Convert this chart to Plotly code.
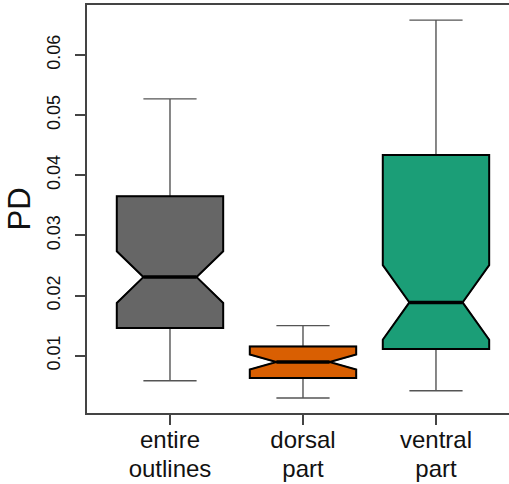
import plotly.graph_objects as go

# Group labels and five-number summaries of PD per outline region
groups = ["entire<br>outlines", "dorsal<br>part", "ventral<br>part"]
lower_whisker = [0.00585, 0.00297, 0.00418]
q1 = [0.0146, 0.0063, 0.01111]
median = [0.02307, 0.00895, 0.01886]
q3 = [0.0365, 0.01155, 0.04339]
upper_whisker = [0.0527, 0.0150, 0.0658]
notch_half = [0.0043, 0.00125, 0.0062]
fill_colors = ["#666666", "#D95F02", "#1B9E77"]

y_ticks = [0.01, 0.02, 0.03, 0.04, 0.05, 0.06]
y_tick_text = ["0.01", "0.02", "0.03", "0.04", "0.05", "0.06"]

BOX_W = 0.8
NOTCH_W = 0.25   # notch indents a quarter of the box width on each side

fig = go.Figure()

for i, g in enumerate(groups):
    # whiskers and staples (thin grey)
    fig.add_trace(go.Box(
        x=[g], q1=[q1[i]], median=[median[i]], q3=[q3[i]],
        lowerfence=[lower_whisker[i]], upperfence=[upper_whisker[i]],
        notched=True, notchspan=[notch_half[i]], notchwidth=NOTCH_W,
        width=BOX_W, whiskerwidth=0.5,
        fillcolor="rgba(0,0,0,0)", line=dict(color="#555555", width=1.4),
        boxpoints=False, showlegend=False, hoverinfo="skip",
    ))
    # notched box body with black outline
    fig.add_trace(go.Box(
        x=[g], q1=[q1[i]], median=[median[i]], q3=[q3[i]],
        lowerfence=[q1[i]], upperfence=[q3[i]],
        notched=True, notchspan=[notch_half[i]], notchwidth=NOTCH_W,
        width=BOX_W, whiskerwidth=0,
        fillcolor=fill_colors[i], line=dict(color="#000000", width=2),
        boxpoints=False, showlegend=False,
    ))
    # heavier median bar across the notch waist
    half = BOX_W / 2 * (1 - 2 * NOTCH_W)
    fig.add_shape(type="line", xref="x", yref="y",
                  x0=i - half, x1=i + half, y0=median[i], y1=median[i],
                  line=dict(color="#000000", width=3.5))

# two-line category labels: base size sets line spacing, span sets glyph size
x_tick_text = ['<span style="font-size:24px">' + g.replace("<br>", '</span><br><span style="font-size:24px">') + "</span>"
               for g in groups]

fig.update_layout(
    width=509, height=484,
    margin=dict(l=87, r=0, t=5, b=71),
    paper_bgcolor="white", plot_bgcolor="white",
    boxmode="overlay",
    font=dict(family="Liberation Sans, Arial, sans-serif", color="#111111"),
    xaxis=dict(
        type="category", categoryorder="array", categoryarray=groups,
        tickvals=groups, ticktext=x_tick_text,
        range=[-0.624, 2.549], automargin=False,
        showline=True, mirror=True, linecolor="#444444", linewidth=1.5,
        ticks="outside", ticklen=10, tickcolor="#444444", tickwidth=1.5,
        showgrid=False, zeroline=False,
        tickfont=dict(size=22), ticklabelstandoff=-3,
    ),
    yaxis=dict(
        range=[0.00048, 0.06831], automargin=False,
        tickvals=y_ticks, ticktext=y_tick_text,
        showline=True, linecolor="#444444", linewidth=1.5,
        ticks="outside", ticklen=10, tickcolor="#444444", tickwidth=1.5,
        tickangle=-90, tickfont=dict(size=18), ticklabelstandoff=8,
        showgrid=False, zeroline=False,
        title=dict(text="PD", font=dict(size=31), standoff=4),
    ),
)

fig.write_html("out.html")
